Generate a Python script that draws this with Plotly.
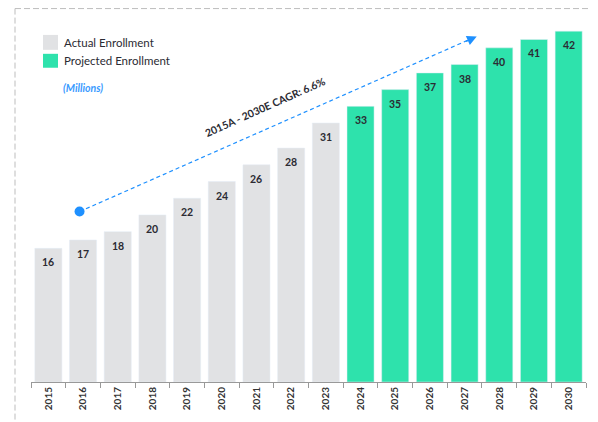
import plotly.graph_objects as go

years = [str(y) for y in range(2015, 2031)]
actual_years = years[:9]
actual_values = [16, 17, 18, 20, 22, 24, 26, 28, 31]
proj_years = years[9:]
proj_values = [33, 35, 37, 38, 40, 41, 42]

GREY = "#E1E2E4"
GREEN = "#2EE2AC"
BLUE = "#1E90FF"
TEXT = "#2B2B33"
FONT = "Lato"

OFF = 8  # page body margin
W, H = 598 - OFF, 422 - OFF
# reference pixel positions (window coords)
PL, PR, PT, PB = 31, 586, 20, 384
ML, MR, MT, MB = PL - OFF, W - (PR - OFF), PT - OFF, H - (PB - OFF)
pw = PR - PL
ph = PB - PT

def px_x(x):
    return (x - PL) / pw

def px_y(y):
    return (PB - y) / ph

label_font = dict(family=FONT, size=10.5, color=TEXT, weight="bold")

fig = go.Figure()
fig.add_trace(go.Bar(x=actual_years, y=actual_values, marker_color=GREY,
                     name="Actual Enrollment", showlegend=False, hoverinfo="x+y"))
fig.add_trace(go.Bar(x=proj_years, y=proj_values, marker_color=GREEN,
                     name="Projected Enrollment", showlegend=False, hoverinfo="x+y"))

shapes = [
    dict(type="line", xref="paper", yref="paper", x0=px_x(15), x1=px_x(598), y0=px_y(8.5), y1=px_y(8.5),
         line=dict(color="#BDBDBD", width=1, dash="6px,3px")),
    dict(type="line", xref="paper", yref="paper", x0=px_x(15), x1=px_x(15), y0=px_y(8.5), y1=px_y(422),
         line=dict(color="#BDBDBD", width=1, dash="6px,3px")),
    dict(type="rect", xref="paper", yref="paper", x0=px_x(43), x1=px_x(58), y0=px_y(50), y1=px_y(35),
         fillcolor=GREY, line=dict(width=0)),
    dict(type="rect", xref="paper", yref="paper", x0=px_x(43), x1=px_x(58), y0=px_y(68), y1=px_y(54),
         fillcolor=GREEN, line=dict(width=0)),
    dict(type="line", xref="x", yref="y", x0=0.9, y0=20.4, x1=12.25, y1=41.2,
         line=dict(color=BLUE, width=1.2, dash="4px,3px")),
    dict(type="circle", xref="x", yref="y", xsizemode="pixel", ysizemode="pixel",
         xanchor=0.9, yanchor=20.4, x0=-5, x1=5, y0=-5, y1=5,
         fillcolor=BLUE, line=dict(width=0)),
]

annotations = [
    dict(xref="paper", yref="paper", x=px_x(62), y=px_y(43), text="Actual Enrollment", showarrow=False,
         xanchor="left", yanchor="middle", font=dict(family=FONT, size=11.5, color=TEXT)),
    dict(xref="paper", yref="paper", x=px_x(62), y=px_y(61), text="Projected Enrollment", showarrow=False,
         xanchor="left", yanchor="middle", font=dict(family=FONT, size=11.5, color=TEXT)),
    dict(xref="paper", yref="paper", x=px_x(61), y=px_y(88), text="<b><i>(Millions)</i></b>", showarrow=False,
         xanchor="left", yanchor="middle", font=dict(family=FONT, size=10.5, color="#3A9BFF")),
    dict(xref="x", yref="y", x=6.25, y=32.9, text="<b>2015A - 2030E CAGR: 6.6%</b>", showarrow=False,
         textangle=-24, font=dict(family=FONT, size=10.5, color=TEXT)),
    dict(xref="x", yref="y", x=12.35, y=41.35, ax=12.0, ay=40.7, axref="x", ayref="y",
         text="", showarrow=True, arrowhead=2, arrowsize=1.3, arrowwidth=1.5, arrowcolor=BLUE),
]
for xs, vs in ((actual_years, actual_values), (proj_years, proj_values)):
    for x, v in zip(xs, vs):
        annotations.append(dict(xref="x", yref="y", x=years.index(x), y=v, yshift=-14, text=str(v),
                                showarrow=False, yanchor="middle", font=label_font))

fig.update_layout(
    width=W, height=H,
    margin=dict(l=ML, r=MR, t=MT, b=MB, pad=0),
    paper_bgcolor="white", plot_bgcolor="white",
    barmode="overlay", bargap=0.22,
    shapes=shapes, annotations=annotations,
    showlegend=False,
    xaxis=dict(type="category", categoryorder="array", categoryarray=years,
               range=[-0.5, 15.5], tickson="boundaries", ticks="outside", ticklen=5,
               tickcolor="#999", showline=True, linecolor="#999", linewidth=1,
               tickangle=-90, tickfont=dict(family=FONT, size=10, color="#333", weight="bold"),
               showgrid=False, fixedrange=True),
    yaxis=dict(range=[0, ph / 8.4], visible=False, showgrid=False, fixedrange=True),
)

fig.write_html("out.html")
